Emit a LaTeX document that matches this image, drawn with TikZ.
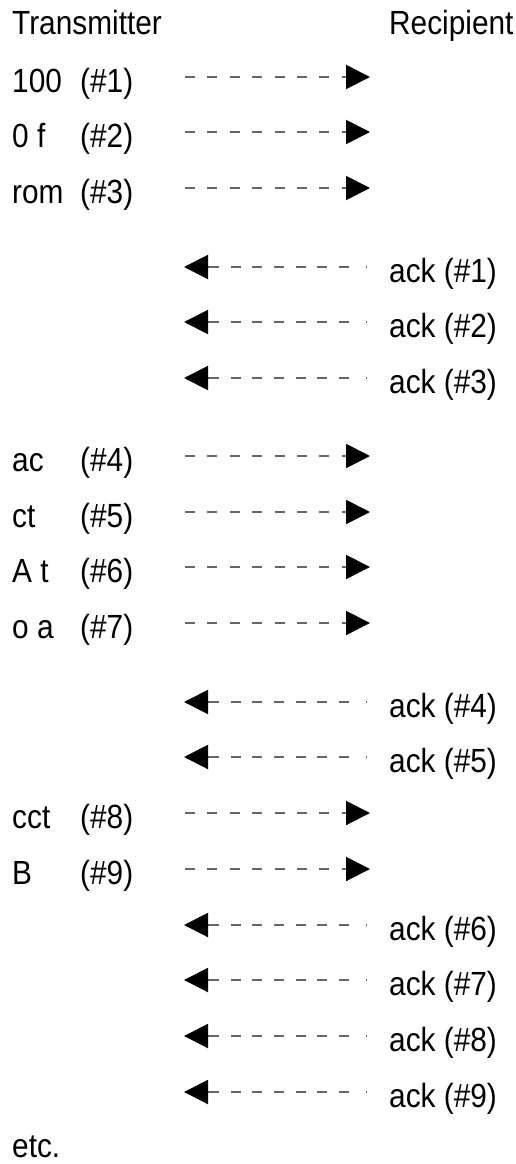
\documentclass[tikz,border=0pt]{standalone}
\usepackage{fontspec}
\setmainfont[FakeStretch=0.89]{Liberation Sans}
\usetikzlibrary{arrows.meta}
\tikzset{
  lbl/.style={inner sep=0pt, anchor=base west, font=\fontsize{33.5}{38}\selectfont},
  fwd/.style={draw=black!60, line width=2pt, dash pattern=on 10pt off 12.4pt,
     -{Triangle[length=24pt,width=24pt,color=black]}},
  bwd/.style={draw=black!60, line width=2pt,
     dash pattern=on 1pt off 17pt on 10pt off 11.7pt on 10pt off 11.7pt on 10pt off 11.7pt on 10pt off 11.7pt on 10pt off 11.7pt on 10pt off 11.7pt on 30pt off 0pt,
     -{Triangle[length=24pt,width=24pt,color=black]}}
}
\newcommand{\lcol}[2]{\makebox[68pt][l]{#1}(\##2)}
\begin{document}
\begin{tikzpicture}[x=1pt,y=-1pt]
\useasboundingbox (0,0) rectangle (516,1164);
% headers
\node[lbl] (hT) at (12,35) {Transmitter};
\node[lbl] (hR) at (389,35) {Recipient};
% transmitted segments
\node[lbl] (m1) at (12,92.5) {\lcol{100}{1}};
\node[lbl] (m2) at (12,147.5) {\lcol{0 f}{2}};
\node[lbl] (m3) at (12,203.5) {\lcol{rom}{3}};
\node[lbl] (m4) at (12,471.5) {\lcol{ac}{4}};
\node[lbl] (m5) at (12,527.5) {\lcol{ct}{5}};
\node[lbl] (m6) at (12,582.5) {\lcol{A t}{6}};
\node[lbl] (m7) at (12,638.5) {\lcol{o a}{7}};
\node[lbl] (m8) at (12,828.5) {\lcol{cct}{8}};
\node[lbl] (m9) at (12,884.5) {\lcol{B}{9}};
% acks
\node[lbl] (k1) at (389,282.5) {ack (\#1)};
\node[lbl] (k2) at (389,337.5) {ack (\#2)};
\node[lbl] (k3) at (389,393.5) {ack (\#3)};
\node[lbl] (k4) at (389,717.5) {ack (\#4)};
\node[lbl] (k5) at (389,772.5) {ack (\#5)};
\node[lbl] (k6) at (389,940.5) {ack (\#6)};
\node[lbl] (k7) at (389,995.5) {ack (\#7)};
\node[lbl] (k8) at (389,1051.5) {ack (\#8)};
\node[lbl] (k9) at (389,1107.5) {ack (\#9)};
\node[lbl] (etc) at (12,1157) {etc.};
% forward arrow ends
\foreach \i/\y in {1/77,2/132,3/188,4/456,5/512,6/567,7/623,8/813,9/869}{
  \coordinate (fs\i) at (185,\y);
  \coordinate (fe\i) at (370,\y);
  \draw[fwd] (fs\i) -- (fe\i);
}
% backward arrow ends
\foreach \i/\y in {1/267,2/322,3/378,4/702,5/757,6/925,7/980,8/1036,9/1092}{
  \coordinate (bs\i) at (367,\y);
  \coordinate (be\i) at (184,\y);
  \draw[bwd] (bs\i) -- (be\i);
}
\end{tikzpicture}
\end{document}
